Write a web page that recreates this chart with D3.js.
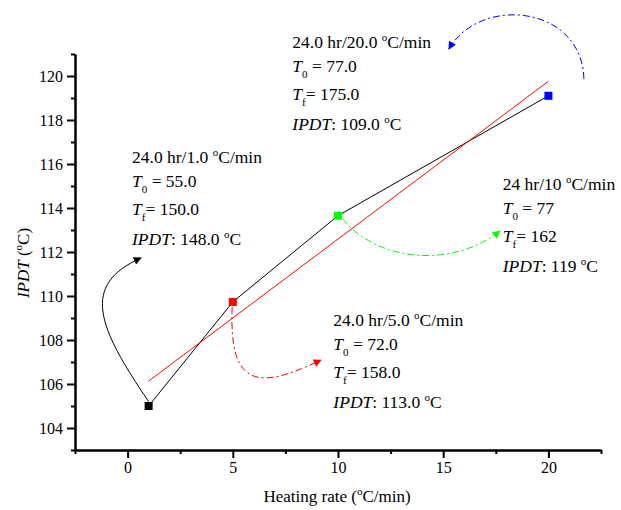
<!DOCTYPE html>
<html>
<head>
<meta charset="utf-8">
<script src="https://cdn.jsdelivr.net/npm/d3@7"></script>
<style>
  html, body { margin: 0; padding: 0; background: #fff; }
  svg { display: block; font-family: "Liberation Serif", "Times New Roman", serif; }
</style>
</head>
<body>
<svg id="chart" width="621" height="510"></svg>
<script>
// ---------- data ----------
const heatingRates = [1, 5, 10, 20];
const ipdtValues   = [105.0, 109.73, 113.65, 119.1];
const pointColors  = ["#000000", "#ff0000", "#00ff00", "#0000ff"];

const fitX = [1, 20];
const fitY = [106.13, 119.76];

const xMajorTicks = [0, 5, 10, 15, 20];
const xMinorTicks = [-2.5, 2.5, 7.5, 12.5, 17.5, 22.5];
const yMajorTicks = [104, 106, 108, 110, 112, 114, 116, 118, 120];
const yMinorTicks = [103, 105, 107, 109, 111, 113, 115, 117, 119, 121];

// annotation texts (one entry per heating rate)
const annHeader = ["24.0 hr/1.0 ", "24.0 hr/20.0 ", "24 hr/10 ", "24.0 hr/5.0 "];
const annT0     = ["55.0", "77.0", "77", "72.0"];
const annTf     = ["150.0", "175.0", "162", "158.0"];
const annIPDT   = ["148.0", "109.0", "119", "113.0"];
const annX      = [0.21, 7.83, 17.83, 9.78];
const annY      = [116.05, 121.29, 114.82, 108.65];

// curved arrows (cubic Bezier control points, data coordinates)
const arrowColors = ["#000000", "#ff0000", "#00ff00", "#0000ff"];
const arrowDashed = [false, true, true, true];
const arrowPts = [
  [[1.0, 105.2], [-1.41, 108.59], [-2.26, 110.5], [0.64, 111.73]],
  [[4.97, 109.5], [4.82, 105.95], [6.06, 105.64], [9.19, 107.09]],
  [[10.23, 113.5], [11.76, 111.64], [15.32, 111.18], [17.7, 112.95]],
  [[21.69, 119.86], [21.6, 123.23], [16.75, 123.68], [15.27, 121.23]]
];

// ---------- layout ----------
const FONT = "'Liberation Serif', 'Times New Roman', serif";
const svg = d3.select("#chart");
svg.append("rect").attr("width", 621).attr("height", 510).attr("fill", "#fff");

const x = d3.scaleLinear().domain([-2.5, 22.5]).range([75, 601]);
const y = d3.scaleLinear().domain([103, 121]).range([450, 54]);

// defs: arrowheads
const defs = svg.append("defs");
arrowColors.forEach((c, i) => {
  defs.append("marker")
    .attr("id", "ah" + i)
    .attr("viewBox", "0 0 10 10")
    .attr("refX", 9).attr("refY", 5)
    .attr("markerUnits", "userSpaceOnUse")
    .attr("markerWidth", 11).attr("markerHeight", 8)
    .attr("orient", "auto")
    .append("path").attr("d", "M0,0 L10,5 L0,10 Z").attr("fill", c);
});

// ---------- axes ----------
function styleAxis(g) {
  g.attr("font-family", FONT);
  g.selectAll("path.domain").attr("stroke", "#000").attr("stroke-width", 2);
  g.selectAll(".tick line").attr("stroke", "#000").attr("stroke-width", 2);
  g.selectAll(".tick text").attr("fill", "#000")
    .style("font-family", FONT).style("font-size", "16px");
}

const gxMinor = svg.append("g").attr("transform", "translate(0,450)")
  .call(d3.axisBottom(x).tickValues(xMinorTicks).tickSize(4).tickSizeOuter(0).tickFormat(""));
styleAxis(gxMinor);
const gx = svg.append("g").attr("transform", "translate(0,450)")
  .call(d3.axisBottom(x).tickValues(xMajorTicks).tickSize(8).tickSizeOuter(0).tickPadding(4).tickFormat(d3.format("d")));
styleAxis(gx);

const gyMinor = svg.append("g").attr("transform", "translate(75,0)")
  .call(d3.axisLeft(y).tickValues(yMinorTicks).tickSize(4).tickSizeOuter(0).tickFormat(""));
styleAxis(gyMinor);
const gy = svg.append("g").attr("transform", "translate(75,0)")
  .call(d3.axisLeft(y).tickValues(yMajorTicks).tickSize(8).tickSizeOuter(0).tickPadding(4).tickFormat(d3.format("d")));
styleAxis(gy);

// axis titles
const xt = svg.append("text").attr("x", 337).attr("y", 502).attr("text-anchor", "middle")
  .attr("font-family", FONT).attr("font-size", 17).attr("fill", "#000");
xt.append("tspan").text("Heating rate (");
xt.append("tspan").attr("font-size", 11).attr("dy", -7).text("o");
xt.append("tspan").attr("dy", 7).text("C/min)");

const yt = svg.append("text").attr("transform", "translate(29,263) rotate(-90)")
  .attr("text-anchor", "middle").attr("font-family", FONT).attr("font-size", 17).attr("fill", "#000");
yt.append("tspan").attr("font-style", "italic").text("IPDT");
yt.append("tspan").text(" (");
yt.append("tspan").attr("font-size", 11).attr("dy", -7).text("o");
yt.append("tspan").attr("dy", 7).text("C)");

// ---------- data lines ----------
const pts = heatingRates.map((d, i) => [d, ipdtValues[i]]);
svg.append("path")
  .attr("d", d3.line().x(d => x(d[0])).y(d => y(d[1]))(pts))
  .attr("fill", "none").attr("stroke", "#000").attr("stroke-width", 1);

const fitPts = fitX.map((d, i) => [d, fitY[i]]);
svg.append("path")
  .attr("d", d3.line().x(d => x(d[0])).y(d => y(d[1]))(fitPts))
  .attr("fill", "none").attr("stroke", "#ff0000").attr("stroke-width", 1);

// ---------- arrows ----------
arrowPts.forEach((p, i) => {
  const d = `M${x(p[0][0])},${y(p[0][1])} C${x(p[1][0])},${y(p[1][1])} ${x(p[2][0])},${y(p[2][1])} ${x(p[3][0])},${y(p[3][1])}`;
  svg.append("path").attr("d", d)
    .attr("fill", "none").attr("stroke", arrowColors[i]).attr("stroke-width", 1)
    .attr("stroke-dasharray", arrowDashed[i] ? "7,3,2,3" : null)
    .attr("marker-end", `url(#ah${i})`);
});

// ---------- markers ----------
svg.selectAll("rect.pt").data(pts).enter().append("rect")
  .attr("class", "pt")
  .attr("x", d => x(d[0]) - 4).attr("y", d => y(d[1]) - 4)
  .attr("width", 8).attr("height", 8)
  .attr("fill", (d, i) => pointColors[i]);

// ---------- annotations ----------
const lineOff = [0, 24, 52, 82];
annHeader.forEach((h, i) => {
  const ax = x(annX[i]), ay = y(annY[i]);
  const g = svg.append("g").attr("font-family", FONT).attr("font-size", 17.5).attr("fill", "#000");
  // line 1
  let t = g.append("text").attr("x", ax).attr("y", ay + lineOff[0]);
  t.append("tspan").text(h);
  t.append("tspan").attr("font-size", 11).attr("dy", -7).text("o");
  t.append("tspan").attr("dy", 7).text("C/min");
  // line 2
  t = g.append("text").attr("x", ax).attr("y", ay + lineOff[1]);
  t.append("tspan").attr("font-style", "italic").text("T");
  t.append("tspan").attr("font-size", 11).attr("dy", 6).text("0");
  t.append("tspan").attr("dy", -6).text(" = " + annT0[i]);
  // line 3
  t = g.append("text").attr("x", ax).attr("y", ay + lineOff[2]);
  t.append("tspan").attr("font-style", "italic").text("T");
  t.append("tspan").attr("font-size", 11).attr("dy", 6).text("f");
  t.append("tspan").attr("dy", -6).text("= " + annTf[i]);
  // line 4
  t = g.append("text").attr("x", ax).attr("y", ay + lineOff[3]);
  t.append("tspan").attr("font-style", "italic").text("IPDT");
  t.append("tspan").text(": " + annIPDT[i] + " ");
  t.append("tspan").attr("font-size", 11).attr("dy", -7).text("o");
  t.append("tspan").attr("dy", 7).text("C");
});
</script>
</body>
</html>
